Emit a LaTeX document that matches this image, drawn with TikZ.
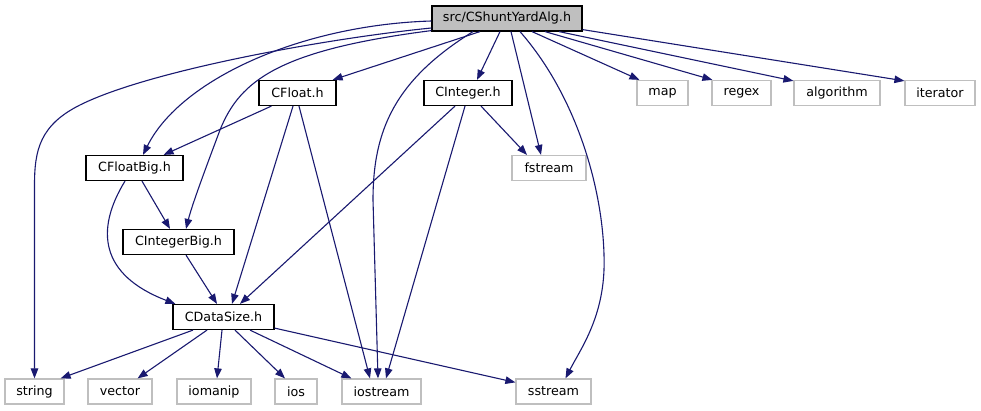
\documentclass[tikz,border=0pt]{standalone}
\usepackage{fontspec}
\setmainfont{DejaVu Sans}
\usetikzlibrary{arrows.meta,calc}
\definecolor{edgeblue}{HTML}{191970}
\definecolor{extgray}{HTML}{BFBFBF}
\begin{document}
\begin{tikzpicture}[x=1pt,y=-1pt,font=\fontsize{12.7}{15}\selectfont,
  hdr/.style={draw=black,line width=1.2pt,fill=white,minimum height=25pt,inner sep=0pt,text=black},
  ext/.style={draw=extgray,line width=1.2pt,fill=white,minimum height=25pt,inner sep=0pt,text=black},
  rootbox/.style={hdr,fill=extgray},
  dep/.style={draw=edgeblue,line width=1.1pt,-{Triangle[length=10pt,width=7.5pt]},fill=none}]
\fill[white] (0,0) rectangle (981,411);
\useasboundingbox (0,0) rectangle (981,411);
% nodes
\node[rootbox,minimum width=150pt] (root) at (507,18.5) {src/CShuntYardAlg.h};
\node[hdr,minimum width=77pt] (CFloat) at (297.5,93) {CFloat.h};
\node[hdr,minimum width=88pt] (CInteger) at (468,93) {CInteger.h};
\node[ext,minimum width=51pt] (map) at (662.5,93) {map};
\node[ext,minimum width=59pt] (regex) at (741.5,93) {regex};
\node[ext,minimum width=86pt] (algorithm) at (837,93) {algorithm};
\node[ext,minimum width=70pt] (iterator) at (940,93) {iterator};
\node[hdr,minimum width=97pt] (CFloatBig) at (134.5,168) {CFloatBig.h};
\node[ext,minimum width=74pt] (fstream) at (549,168) {fstream};
\node[hdr,minimum width=111pt] (CIntegerBig) at (178.5,242) {CIntegerBig.h};
\node[hdr,minimum width=101pt] (CDataSize) at (223.5,317) {CDataSize.h};
\node[ext,minimum width=59pt] (string) at (34.5,391.5) {string};
\node[ext,minimum width=64pt] (vector) at (120,391.5) {vector};
\node[ext,minimum width=74pt] (iomanip) at (214,391.5) {iomanip};
\node[ext,minimum width=42pt] (ios) at (296,391.5) {ios};
\node[ext,minimum width=79pt] (iostream) at (381.5,391.5) {iostream};
\node[ext,minimum width=75pt] (sstream) at (553.5,391.5) {sstream};
% edges from root
\draw[dep] ($(root.south)+(-27,0)$) -- ($(CFloat.north east)+(-4,0)$);
\draw[dep] ($(root.south)+(-7,0)$) -- ($(CInteger.north)+(9,0)$);
\draw[dep] ($(root.south)+(4,0)$) -- ($(fstream.north)+(-8,0)$);
\draw[dep] ($(root.south)+(25,0)$) -- ($(map.north west)+(3,0)$);
\draw[dep] ($(root.south)+(38,0)$) -- ($(regex.north west)+(1,0)$);
\draw[dep] ($(root.south)+(52,0)$) -- ($(algorithm.north west)+(0,1)$);
\draw[dep] ($(root.south east)+(0,-2)$) -- ($(iterator.north west)+(0,1)$);
\draw[dep] ($(root.south)+(-34,0)$) .. controls (395,80) and (373,130) .. (373,200) -- ($(iostream.north)+(-3.5,0)$);
\draw[dep] ($(root.south)+(13,0)$) .. controls (580,100) and (606,200) .. (604,270) .. controls (602,320) and (580,350) .. ($(sstream.north)+(12,0)$);
\draw[dep] ($(root.west)+(0,9.5)$) .. controls (330,38) and (150,70) .. (80,105) .. controls (40,125) and (34.5,150) .. (34.5,185) -- (string.north);
\draw[dep] ($(root.west)+(0,2.5)$) .. controls (300,25) and (180,80) .. ($(CFloatBig.north)+(8.5,0)$);
\draw[dep] ($(root.south west)+(0,-1)$) .. controls (280,50) and (240,80) .. (220,130) .. controls (205,170) and (192,205) .. ($(CIntegerBig.north)+(7.5,0)$);
% CFloat
\draw[dep] ($(CFloat.south west)+(13,0)$) -- ($(CFloatBig.north east)+(-20,0)$);
\draw[dep] ($(CFloat.south)+(-4.5,0)$) -- ($(CDataSize.north)+(8.5,0)$);
\draw[dep] ($(CFloat.south)+(1.5,0)$) -- ($(iostream.north)+(-11.5,0)$);
% CInteger
\draw[dep] ($(CInteger.south)+(13,0)$) -- ($(fstream.north)+(-22,0)$);
\draw[dep] ($(CInteger.south)+(-13,0)$) -- ($(CDataSize.north)+(16.5,0)$);
\draw[dep] ($(CInteger.south)+(-3,0)$) -- ($(iostream.north)+(4.5,0)$);
% CFloatBig
\draw[dep] ($(CFloatBig.south)+(7.5,0)$) -- ($(CIntegerBig.north)+(-8.5,0)$);
\draw[dep] ($(CFloatBig.south)+(-9.5,0)$) .. controls (95,230) and (100,275) .. ($(CDataSize.north west)+(3,0)$);
% CIntegerBig
\draw[dep] ($(CIntegerBig.south)+(7.5,0)$) -- ($(CDataSize.north)+(-6.5,0)$);
% CDataSize
\draw[dep] ($(CDataSize.south)+(-30.5,0)$) -- ($(string.north east)+(-4,0)$);
\draw[dep] ($(CDataSize.south)+(-16.5,0)$) -- ($(vector.north east)+(-15,0)$);
\draw[dep] ($(CDataSize.south)+(-1.5,0)$) -- ($(iomanip.north)+(3,0)$);
\draw[dep] ($(CDataSize.south)+(11.5,0)$) -- ($(ios.north)+(-11,0)$);
\draw[dep] ($(CDataSize.south)+(26.5,0)$) -- ($(iostream.north west)+(10,0)$);
\draw[dep] ($(CDataSize.south east)+(0,-2)$) -- ($(sstream.north west)+(0,4)$);
\end{tikzpicture}
\end{document}
